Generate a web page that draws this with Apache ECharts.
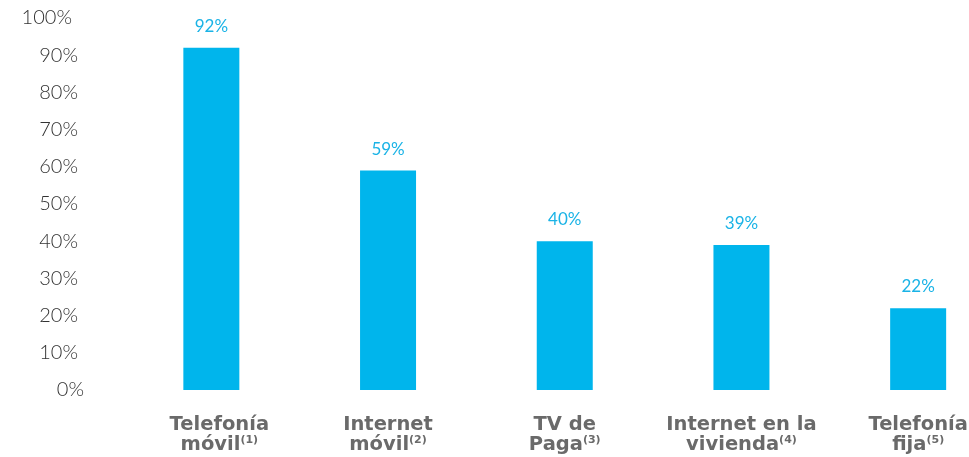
<!DOCTYPE html>
<html><head><meta charset="utf-8">
<script src="https://cdn.jsdelivr.net/npm/echarts@6/dist/echarts.min.js"></script>
<style>html,body{margin:0;padding:0;background:#fff}#c{width:969px;height:457px}</style>
</head><body><div id="c"></div>
<script>
var categories = ['Telefonía\nmóvil', 'Internet\nmóvil', 'TV de\nPaga', 'Internet en la\nvivienda', 'Telefonía\nfija'];
var notes = ['(1)', '(2)', '(3)', '(4)', '(5)'];
var values = [92, 59, 40, 39, 22];

var chart = echarts.init(document.getElementById('c'));
chart.setOption({
  animation: false,
  grid: { left: 123, width: 883.5, top: 18, bottom: 67, containLabel: false, outerBoundsMode: 'none' },
  xAxis: {
    type: 'category',
    data: categories,
    axisLine: { show: false },
    axisTick: { show: false },
    axisLabel: {
      margin: 25,
      interval: 0,
      formatter: function (v, i) {
        var lines = v.split('\n');
        var pad = i === 0 ? '{g|}' : '';
        return pad + '{b|' + lines[0] + '}\n' + pad + '{b|' + lines[1] + '}{s|' + notes[i] + '}';
      },
      rich: {
        b: { fontFamily: 'DejaVu Sans', fontWeight: 'bold', fontSize: 19.5, color: '#6a6a6a', lineHeight: 20 },
        s: { fontFamily: 'DejaVu Sans', fontWeight: 'bold', fontSize: 11, color: '#6a6a6a', lineHeight: 20, verticalAlign: 'top', padding: [0, 0, 8, 0] },
        g: { width: 16 }
      }
    }
  },
  yAxis: {
    type: 'value',
    min: 0, max: 100, interval: 10,
    splitLine: { show: false },
    axisLine: { show: false },
    axisTick: { show: false },
    axisLabel: {
      margin: 39,
      formatter: function (v) {
        var p = v === 100 ? 12 : (v === 0 ? 0 : 6);
        return '{t|' + v + '%}{p' + p + '|}';
      },
      rich: {
        t: { fontFamily: 'Lato', fontWeight: 300, fontSize: 20, color: '#333' },
        p12: { width: 12 },
        p6: { width: 6 },
        p0: { width: 0 }
      }
    }
  },
  series: [{
    type: 'bar',
    data: values,
    barWidth: 56,
    itemStyle: { color: '#00b5ec' },
    label: {
      show: true, position: 'top', distance: 13,
      formatter: '{c}%',
      fontFamily: 'Lato', fontSize: 17, color: '#1ab3e6'
    }
  }]
});
</script></body></html>
